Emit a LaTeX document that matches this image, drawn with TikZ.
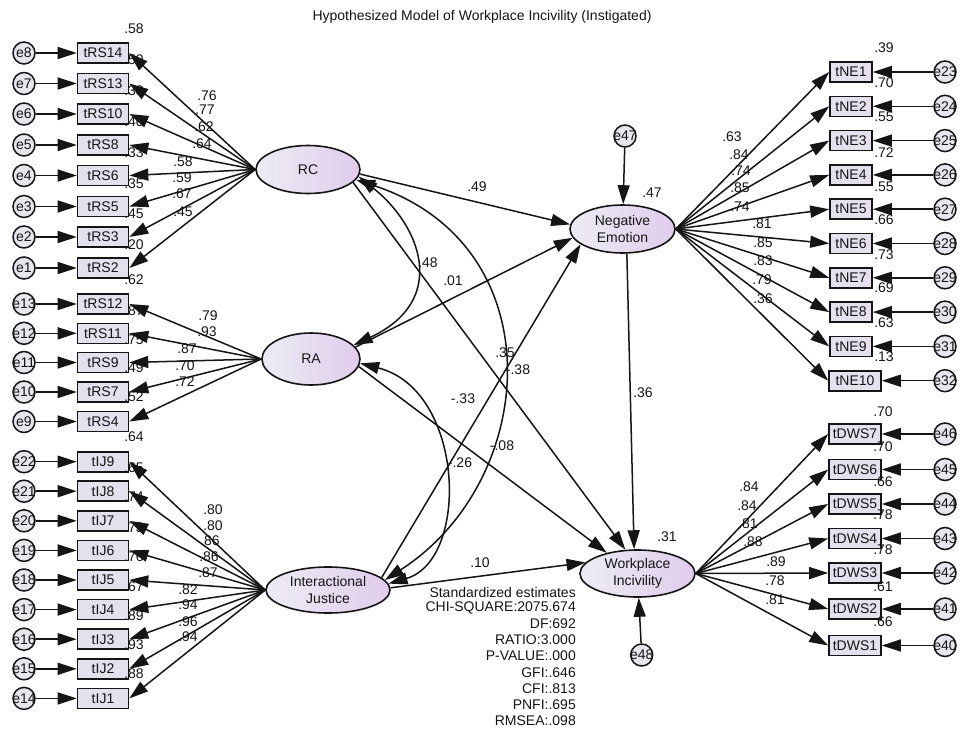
\documentclass[tikz,border=0pt]{standalone}
\usepackage{fontspec}
\setmainfont{Liberation Sans}
\usetikzlibrary{arrows.meta,shapes.geometric,calc}
\definecolor{ink}{HTML}{151515}
\definecolor{boxfill}{HTML}{E4E0EE}
\definecolor{errfill}{HTML}{E6E6EC}
\definecolor{latleft}{HTML}{ECECF4}
\definecolor{latright}{HTML}{E0CCEC}
\begin{document}
\begin{tikzpicture}[x=1pt,y=-1pt,
  >={Triangle[length=19pt,width=12pt]},
  font=\fontsize{14}{16.5}\selectfont,
  obs/.style={rectangle,draw=ink,line width=1.6pt,fill=boxfill,text=ink,
              minimum height=20pt,inner sep=0pt},
  obsleft/.style={obs,minimum width=51pt},
  obsne/.style={obs,minimum width=42pt},
  obswide/.style={obs,minimum width=52pt},
  err/.style={circle,draw=ink,line width=1.5pt,fill=errfill,text=ink,
              minimum size=22pt,inner sep=0pt},
  latent/.style={ellipse,draw=ink,line width=1.6pt,left color=latleft,
              right color=latright,text=ink,inner sep=0pt,align=center},
  arr/.style={->,draw=ink,line width=1.5pt},
  covar/.style={<->,draw=ink,line width=1.5pt},
  est/.style={text=ink,inner sep=0pt},
]
\fill[white] (0,0) rectangle (964,731);
\useasboundingbox (0,0) rectangle (964,731);

\node[est] (title) at (482,17) {Hypothesized Model of Workplace Incivility (Instigated)};

% latent variables
\node[latent,minimum width=104pt,minimum height=48pt] (RC) at (308,169.5) {RC};
\node[latent,minimum width=98pt,minimum height=52pt] (RA) at (311,359) {RA};
\node[latent,minimum width=124pt,minimum height=46pt] (IJ) at (328,590) {Interactional\\Justice};
\node[latent,minimum width=105pt,minimum height=48pt] (NE) at (622.5,229) {Negative\\Emotion};
\node[latent,minimum width=115pt,minimum height=47pt] (WI) at (637.5,573.5) {Workplace\\Incivility};

% disturbances
\node[err] (e47) at (625,136) {\makebox[0pt]{e47}};
\node[err] (e48) at (641.7,655) {\makebox[0pt]{e48}};
\draw[arr] (e47) -- (NE);
\draw[arr] (e48) -- (WI);

% left indicators with their error terms
\foreach \nm/\er/\yy in {tRS14/e8/53, tRS13/e7/83.5, tRS10/e6/114, tRS8/e5/145,
    tRS6/e4/175.5, tRS5/e3/206.5, tRS3/e2/237, tRS2/e1/268,
    tRS12/e13/304, tRS11/e12/333.3, tRS9/e11/362.5, tRS7/e10/392, tRS4/e9/421.5,
    tIJ9/e22/461.7, tIJ8/e21/491.2, tIJ7/e20/520.8, tIJ6/e19/550.4, tIJ5/e18/580,
    tIJ4/e17/609.6, tIJ3/e16/639.2, tIJ2/e15/668.8, tIJ1/e14/698.4}{
  \node[obsleft] (\nm) at (103,\yy) {\nm};
  \node[err] (\er) at (24,\yy) {\makebox[0pt]{\er}};
  \draw[arr] (\er) -- (\nm);
}

% right indicators with their error terms
\foreach \nm/\er/\yy in {tNE1/e23/72, tNE2/e24/106.3, tNE3/e25/140.6, tNE4/e26/174.9,
    tNE5/e27/209.2, tNE6/e28/243.5, tNE7/e29/277.8, tNE8/e30/312.1, tNE9/e31/346.4}{
  \node[obsne] (\nm) at (851,\yy) {\nm};
  \node[err] (\er) at (945,\yy) {\makebox[0pt]{\er}};
  \draw[arr] (\er) -- (\nm);
}
\node[obswide] (tNE10) at (855,380.7) {tNE10};
\node[err] (e32) at (945,380.7) {\makebox[0pt]{e32}};
\draw[arr] (e32) -- (tNE10);
\foreach \nm/\er/\yy in {tDWS7/e46/434, tDWS6/e45/469.5, tDWS5/e44/504, tDWS4/e43/538.5,
    tDWS3/e42/573, tDWS2/e41/609, tDWS1/e40/645.5}{
  \node[obswide] (\nm) at (855,\yy) {\nm};
  \node[err] (\er) at (945,\yy) {\makebox[0pt]{\er}};
  \draw[arr] (\er) -- (\nm);
}

% squared multiple correlations
\foreach \val/\yy [count=\k] in {.58/29, .59/60, .38/91, .40/122, .33/153, .35/184,
    .45/214, .20/245, .62/280, .87/311, .75/340, .49/368, .52/397,
    .64/437, .65/468, .74/497, .73/528, .76/557, .67/587, .89/616, .93/645, .88/674}
  \node[est] (rl\k) at (134,\yy) {\val};
\foreach \val/\yy [count=\k] in {.39/48, .70/83, .55/117, .72/153, .55/187, .66/220,
    .73/255, .69/288, .63/323, .13/357}
  \node[est] (rn\k) at (884,\yy) {\val};
\foreach \val/\yy [count=\k] in {.70/412, .70/447, .66/482, .78/515, .78/550, .61/587, .66/622}
  \node[est] (rd\k) at (883,\yy) {\val};
\node[est] (rne) at (652,193) {.47};
\node[est] (rwi) at (667,537) {.31};

% factor loadings
\foreach \val/\xx/\yy [count=\k] in {.76/207/96, .77/205/110, .62/204/127, .64/202/144,
    .58/183/162, .59/182/178, .67/182/194, .45/183/212,
    .79/208/316, .93/207/332, .87/187/349, .70/185/366, .72/185/382,
    .80/213/510, .80/213/526, .86/210/541, .86/209/557, .87/208/573,
    .82/188/590, .94/188/605, .96/188/622, .94/188/637,
    .63/732/137, .84/739/155, .74/741/171, .85/740/188, .74/740/207,
    .81/762/224, .85/763/243, .83/763/261, .79/762/280, .36/763/299,
    .84/749/487, .84/747/506, .81/748/524, .88/753/542,
    .89/776/562, .78/775/581, .81/775/600}
  \node[est] (ld\k) at (\xx,\yy) {\val};

% structural estimates
\node[est] (p1) at (477,187) {.49};
\node[est] (p2) at (428,263) {.48};
\node[est] (p3) at (453,281) {.01};
\node[est] (p4) at (505,353) {.35};
\node[est] (p5) at (518,370) {-.38};
\node[est] (p6) at (463,399) {-.33};
\node[est] (p7) at (502,446) {-.08};
\node[est] (p8) at (460,463) {-.26};
\node[est] (p9) at (643,393) {.36};
\node[est] (p10) at (480,563) {.10};

% loadings paths
\foreach \nm in {tRS14,tRS13,tRS10,tRS8,tRS6,tRS5,tRS3,tRS2}
  \draw[arr] (RC.west) -- (\nm.east);
\foreach \nm in {tRS12,tRS11,tRS9,tRS7,tRS4}
  \draw[arr] (RA.west) -- (\nm.east);
\foreach \nm in {tIJ9,tIJ8,tIJ7,tIJ6,tIJ5,tIJ4,tIJ3,tIJ2,tIJ1}
  \draw[arr] (IJ.west) -- (\nm.east);
\foreach \nm in {tNE1,tNE2,tNE3,tNE4,tNE5,tNE6,tNE7,tNE8,tNE9,tNE10}
  \draw[arr] (NE.east) -- (\nm.west);
\foreach \nm in {tDWS7,tDWS6,tDWS5,tDWS4,tDWS3,tDWS2,tDWS1}
  \draw[arr] (WI.east) -- (\nm.west);

% structural paths
\draw[arr] (RC.-5) -- (NE.175);
\draw[arr] (RA.15) -- (NE.190);
\draw[arr] (IJ.13) -- (NE.200);
\draw[arr] (RC.-16) -- (WI.117);
\draw[arr] (RA.-9) -- (WI.146);
\draw[arr] (IJ.2) -- (WI.168);
\draw[arr] (NE.-80) -- (WI.98);

% covariances among exogenous factors
\draw[covar] (RC.-8) .. controls (420,225) and (450,300) .. (RA.18);
\draw[covar] (RC.-12) .. controls (555,245) and (540,480) .. (IJ.10);
\draw[covar] (RA.-5) .. controls (465,390) and (470,560) .. (IJ.6);

% fit summary
\foreach \txt/\yy [count=\k] in {Standardized estimates/592.3, CHI-SQUARE:2075.674/607.5,
    DF:692/623.7, RATIO:3.000/639.9, P-VALUE:.000/656.1, GFI:.646/672.3,
    CFI:.813/688.5, PNFI:.695/704.7, RMSEA:.098/720.9}
  \node[est,anchor=east] (fit\k) at (576,\yy) {\txt};
\end{tikzpicture}
\end{document}
